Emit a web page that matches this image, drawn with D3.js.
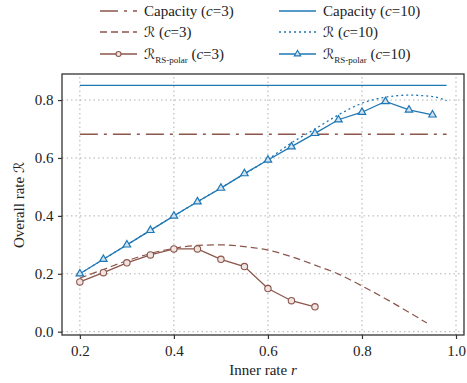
<!DOCTYPE html>
<html>
<head>
<meta charset="utf-8">
<script src="https://cdn.jsdelivr.net/npm/d3@7"></script>
<style>
  body { margin: 0; background: #fff; }
  text { font-family: "Liberation Serif", "DejaVu Serif", serif; fill: #222; }
</style>
</head>
<body>
<div id="chart"></div>
<script>
var width = 467, height = 383;
var margin = {left: 62, right: 3, top: 74, bottom: 48};

// ---- data ----
var capC3 = 0.682, capC10 = 0.851, capRange = [0.2, 0.98];

var rateC10r = [0.2, 0.3, 0.4, 0.5, 0.6, 0.65, 0.7, 0.75, 0.8, 0.85, 0.9, 0.95, 0.98];
var rateC10  = [0.2, 0.3, 0.4, 0.497, 0.595, 0.652, 0.70, 0.749, 0.789, 0.810, 0.817, 0.812, 0.798];

var rateC3r = [0.2, 0.25, 0.3, 0.35, 0.4, 0.45, 0.5, 0.55, 0.6, 0.65, 0.7, 0.75, 0.8, 0.85, 0.9, 0.938];
var rateC3  = [0.185, 0.215, 0.245, 0.27, 0.288, 0.298, 0.300, 0.294, 0.282, 0.259, 0.230, 0.199, 0.158, 0.114, 0.067, 0.030];

var rsR = [0.2, 0.25, 0.3, 0.35, 0.4, 0.45, 0.5, 0.55, 0.6, 0.65, 0.7, 0.75, 0.8, 0.85, 0.9, 0.95];
var rsC10 = [0.2, 0.25, 0.30, 0.35, 0.40, 0.449, 0.496, 0.546, 0.593, 0.639, 0.685, 0.732, 0.758, 0.795, 0.766, 0.749];
var rsC3  = [0.172, 0.204, 0.238, 0.265, 0.286, 0.286, 0.25, 0.225, 0.149, 0.107, 0.086];

var xTicks = [0.2, 0.4, 0.6, 0.8, 1.0];
var yTicks = [0.0, 0.2, 0.4, 0.6, 0.8];

var brown = "#8c564b", blue = "#1f77b4";

var svg = d3.select("#chart").append("svg")
    .attr("width", width)
    .attr("height", height);

var x = d3.scaleLinear().domain([0.162, 1.017]).range([margin.left, width - margin.right]);
var y = d3.scaleLinear().domain([-0.0114, 0.890]).range([height - margin.bottom, margin.top]);

// grid
svg.append("g").selectAll("line").data(xTicks).enter().append("line")
    .attr("x1", d => x(d)).attr("x2", d => x(d))
    .attr("y1", y.range()[0]).attr("y2", y.range()[1])
    .attr("stroke", "#b0b0b0").attr("stroke-width", 1).attr("stroke-dasharray", "1.5,3");
svg.append("g").selectAll("line").data(yTicks).enter().append("line")
    .attr("y1", d => y(d)).attr("y2", d => y(d))
    .attr("x1", x.range()[0]).attr("x2", x.range()[1])
    .attr("stroke", "#b0b0b0").attr("stroke-width", 1).attr("stroke-dasharray", "1.5,3");

var line = d3.line().x(d => x(d[0])).y(d => y(d[1]));

// capacity lines
svg.append("path").datum(capRange.map(r => [r, capC10]))
    .attr("d", line).attr("fill", "none").attr("stroke", blue).attr("stroke-width", 1.3);
svg.append("path").datum(capRange.map(r => [r, capC3]))
    .attr("d", line).attr("fill", "none").attr("stroke", brown).attr("stroke-width", 1.3)
    .attr("stroke-dasharray", "18,6,3,6");

// achievable rate curves
svg.append("path").datum(rateC10r.map((r, i) => [r, rateC10[i]]))
    .attr("d", line.curve(d3.curveMonotoneX)).attr("fill", "none").attr("stroke", blue)
    .attr("stroke-width", 1.3).attr("stroke-dasharray", "2,3");
svg.append("path").datum(rateC3r.map((r, i) => [r, rateC3[i]]))
    .attr("d", line.curve(d3.curveMonotoneX)).attr("fill", "none").attr("stroke", brown)
    .attr("stroke-width", 1.2).attr("stroke-dasharray", "7,4");
line.curve(d3.curveLinear);

// RS-polar c=10
var ptsC10 = rsR.map((r, i) => [r, rsC10[i]]);
svg.append("path").datum(ptsC10).attr("d", line).attr("fill", "none")
    .attr("stroke", blue).attr("stroke-width", 1.3);
var tri = d3.symbol().type(d3.symbolTriangle).size(24);
svg.append("g").selectAll("path").data(ptsC10).enter().append("path")
    .attr("d", tri).attr("transform", d => "translate(" + x(d[0]) + "," + y(d[1]) + ")")
    .attr("fill", "#cfe3f2").attr("stroke", blue).attr("stroke-width", 1.2);

// RS-polar c=3
var ptsC3 = rsC3.map((v, i) => [rsR[i], v]);
svg.append("path").datum(ptsC3).attr("d", line).attr("fill", "none")
    .attr("stroke", brown).attr("stroke-width", 1.3);
svg.append("g").selectAll("circle").data(ptsC3).enter().append("circle")
    .attr("cx", d => x(d[0])).attr("cy", d => y(d[1])).attr("r", 3.2)
    .attr("fill", "#efe4e1").attr("stroke", brown).attr("stroke-width", 1.1);

// frame
svg.append("rect")
    .attr("x", margin.left).attr("y", margin.top)
    .attr("width", width - margin.right - margin.left)
    .attr("height", height - margin.bottom - margin.top)
    .attr("fill", "none").attr("stroke", "#333").attr("stroke-width", 1.3);

// axes
var xAxis = svg.append("g")
    .attr("transform", "translate(0," + (height - margin.bottom) + ")")
    .call(d3.axisBottom(x).tickValues(xTicks).tickFormat(d3.format(".1f")).tickSize(4).tickSizeOuter(0));
var yAxis = svg.append("g")
    .attr("transform", "translate(" + margin.left + ",0)")
    .call(d3.axisLeft(y).tickValues(yTicks).tickFormat(d3.format(".1f")).tickSize(4).tickSizeOuter(0));
[xAxis, yAxis].forEach(a => {
    a.select(".domain").remove();
    a.selectAll(".tick line").attr("stroke", "#333").attr("stroke-width", 1.2);
    a.selectAll(".tick text").attr("font-size", 15)
        .attr("font-family", "Liberation Serif, serif").attr("fill", "#222");
});
xAxis.selectAll(".tick text").attr("dy", "0.95em");
yAxis.selectAll(".tick text").attr("dx", "-0.1em");

svg.append("text")
    .attr("x", 263).attr("y", 375).attr("text-anchor", "middle").attr("font-size", 15)
    .html('Inner rate <tspan font-style="italic">r</tspan>');
svg.append("text")
    .attr("transform", "translate(24,205) rotate(-90)").attr("text-anchor", "middle").attr("font-size", 15)
    .html('Overall rate <tspan font-family="DejaVu Sans" font-style="italic" font-size="14">ℛ</tspan>');

// legend
var legend = [
    {col: 0, row: 0, color: brown, dash: "18,6,3,6", label: 'Capacity (<tspan font-style="italic">c</tspan>=3)'},
    {col: 0, row: 1, color: brown, dash: "7,4", label: '<tspan font-family="DejaVu Sans" font-style="italic" font-size="14">ℛ</tspan> (<tspan font-style="italic">c</tspan>=3)'},
    {col: 0, row: 2, color: brown, marker: "circle", label: '<tspan font-family="DejaVu Sans" font-style="italic" font-size="14">ℛ</tspan><tspan font-size="9" dy="4">RS-polar</tspan><tspan dy="-4"> (</tspan><tspan font-style="italic">c</tspan>=3)'},
    {col: 1, row: 0, color: blue, label: 'Capacity (<tspan font-style="italic">c</tspan>=10)'},
    {col: 1, row: 1, color: blue, dash: "2,3", label: '<tspan font-family="DejaVu Sans" font-style="italic" font-size="14">ℛ</tspan> (<tspan font-style="italic">c</tspan>=10)'},
    {col: 1, row: 2, color: blue, marker: "tri", label: '<tspan font-family="DejaVu Sans" font-style="italic" font-size="14">ℛ</tspan><tspan font-size="9" dy="4">RS-polar</tspan><tspan dy="-4"> (</tspan><tspan font-style="italic">c</tspan>=10)'}
];
var colX = [100, 279], rowY = [11, 32, 54];

legend.forEach(function(d){
    var g = svg.append("g").attr("transform", "translate(" + colX[d.col] + "," + rowY[d.row] + ")");
    g.append("line").attr("x1", 0).attr("x2", 37).attr("y1", 0).attr("y2", 0)
        .attr("stroke", d.color).attr("stroke-width", 1.3)
        .attr("stroke-dasharray", d.dash || null);
    if (d.marker === "circle") {
        g.append("circle").attr("cx", 18.5).attr("cy", 0).attr("r", 2.5)
            .attr("fill", "#efe4e1").attr("stroke", d.color).attr("stroke-width", 1.1);
    }
    if (d.marker === "tri") {
        g.append("path").attr("d", d3.symbol().type(d3.symbolTriangle).size(18)())
            .attr("transform", "translate(18.5,0)")
            .attr("fill", "#cfe3f2").attr("stroke", d.color).attr("stroke-width", 1.1);
    }
    g.append("text").attr("x", 44).attr("y", 5).attr("font-size", 15).html(d.label);
});
</script>
</body>
</html>
